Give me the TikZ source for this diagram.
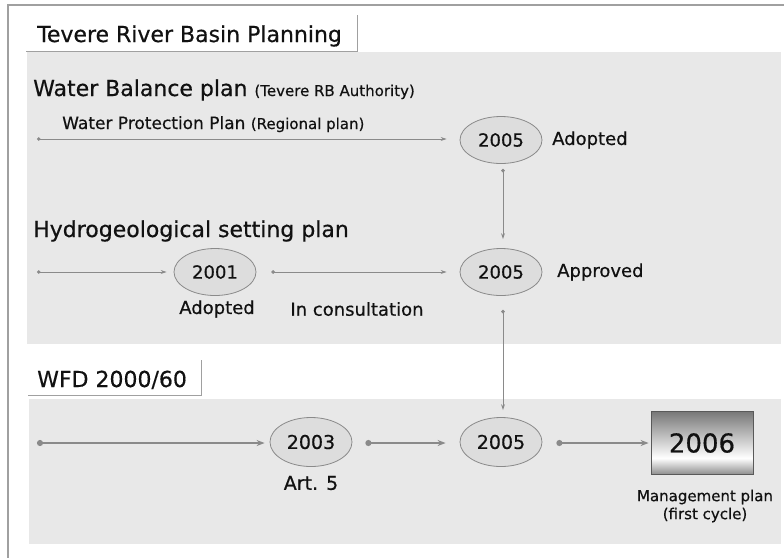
\documentclass[tikz,border=0pt]{standalone}
\usepackage{fontspec}
\setmainfont[UprightFeatures={FakeBold=0.5}]{DejaVu Sans}
\usetikzlibrary{shapes.geometric,arrows.meta}
\definecolor{panelgray}{HTML}{E8E8E8}
\definecolor{ellgray}{HTML}{DDDDDD}
\definecolor{linegray}{HTML}{8A8A8A}
\definecolor{framegray}{HTML}{A0A0A0}
\definecolor{txt}{HTML}{111111}
\definecolor{st}{gray}{0.47}
\definecolor{sb}{gray}{0.55}
\pgfdeclareverticalshading{boxshade}{100bp}{color(0bp)=(sb); color(25bp)=(sb); color(38bp)=(white); color(75bp)=(st); color(100bp)=(st)}
\newcommand{\fsz}[1]{\fontsize{#1}{#1}\selectfont}
\begin{document}
\begin{tikzpicture}[x=1pt,y=-1pt,
  every node/.style={text=txt},
  panel/.style={fill=panelgray,draw=none},
  tabline/.style={draw=framegray,line width=1pt},
  lbl/.style={inner sep=0pt,anchor=base west},
  yr/.style={ellipse,draw=linegray,fill=ellgray,line width=0.8pt,minimum width=82pt,minimum height=47pt,inner sep=0pt,font=\fsz{18}},
  yrb/.style={yr,minimum height=49pt,font=\fsz{19}},
  thinarr/.style={draw=linegray,line width=0.9pt,{Circle[length=3.5pt]}-{Stealth[length=6pt,width=4pt]}},
  thickarr/.style={draw=linegray,line width=2pt,{Circle[length=6pt]}-{Stealth[length=8pt,width=6pt]}},
  note/.style={inner sep=0pt,font=\fsz{18}}
]
\useasboundingbox (0,0) rectangle (784,558);
% outer frame
\draw[framegray,line width=1.2pt] (784,5) -- (8,5) -- (8,558);
% panels
\fill[panel] (27,52) rectangle (781,344);
\fill[panel] (29,399) rectangle (781,544);
% tabs
\draw[tabline] (26,51) -- (357,51) -- (357,15);
\draw[tabline] (28,395) -- (201,395) -- (201,360);
% headings
\node[lbl,font=\fsz{22}] (t1) at (37,42) {Tevere River Basin Planning};
\node[lbl,font=\fsz{22}] (wb) at (33,96) {Water Balance plan {\fsz{15}(Tevere RB Authority)}};
\node[lbl,font=\fsz{17}] (wp) at (62,129) {Water Protection Plan {\fsz{15}(Regional plan)}};
\node[lbl,font=\fsz{22}] (hy) at (33,237) {Hydrogeological setting plan};
\node[lbl,font=\fsz{22}] (wfd) at (37,387) {WFD 2000/60};
% upper ellipses
\node[yr] (e05a) at (501,140) {2005};
\node[yr] (e01) at (215,272) {2001};
\node[yr] (e05b) at (501,272) {2005};
\node[note,anchor=west] (ad1) at (552,140) {Adopted};
\node[note,anchor=west] (ap) at (557,272) {Approved};
\node[note] (ad2) at (217,309) {Adopted};
\node[note] (ic) at (357,309) {In consultation};
% lower
\node[yrb] (e03) at (311,442) {2003};
\node[yrb] (e05c) at (501,442) {2005};
\node[draw=black!65,line width=0.8pt,shading=boxshade,minimum width=102pt,minimum height=63pt,inner sep=0pt,font=\fsz{26}] (b06) at (702,443) {2006};
\node[note,font=\fsz{19}] (art) at (311,483) {Art. 5};
\node[inner sep=0pt,align=center,font=\fontsize{15}{18}\selectfont] (mp) at (705,506) {Management plan\\(first cycle)};
% start coordinates
\coordinate (s1) at (37,139);
\coordinate (s2) at (37,272);
\coordinate (s3) at (37,443);
% connectors upper
\draw[thinarr] (s1) -- ([xshift=-13pt]e05a.west |- s1);
\draw[thinarr] (s2) -- ([xshift=-7pt]e01.west);
\draw[thinarr] ([xshift=15pt]e01.east) -- ([xshift=-13pt]e05b.west);
\draw[thinarr] ([xshift=2pt,yshift=-5pt]e05a.south) -- ([xshift=2pt,yshift=9pt]e05b.north);
\draw[thinarr] ([xshift=2pt,yshift=-14pt]e05b.south) -- ([xshift=2pt,yshift=7pt]e05c.north);
% connectors lower
\draw[thickarr] (s3) -- ([xshift=-5pt]e03.west |- s3);
\draw[thickarr] ([xshift=13pt]e03.east |- s3) -- ([xshift=-14pt]e05c.west |- s3);
\draw[thickarr] ([xshift=14pt]e05c.east |- s3) -- ([xshift=-2pt]b06.west |- s3);
\end{tikzpicture}
\end{document}
